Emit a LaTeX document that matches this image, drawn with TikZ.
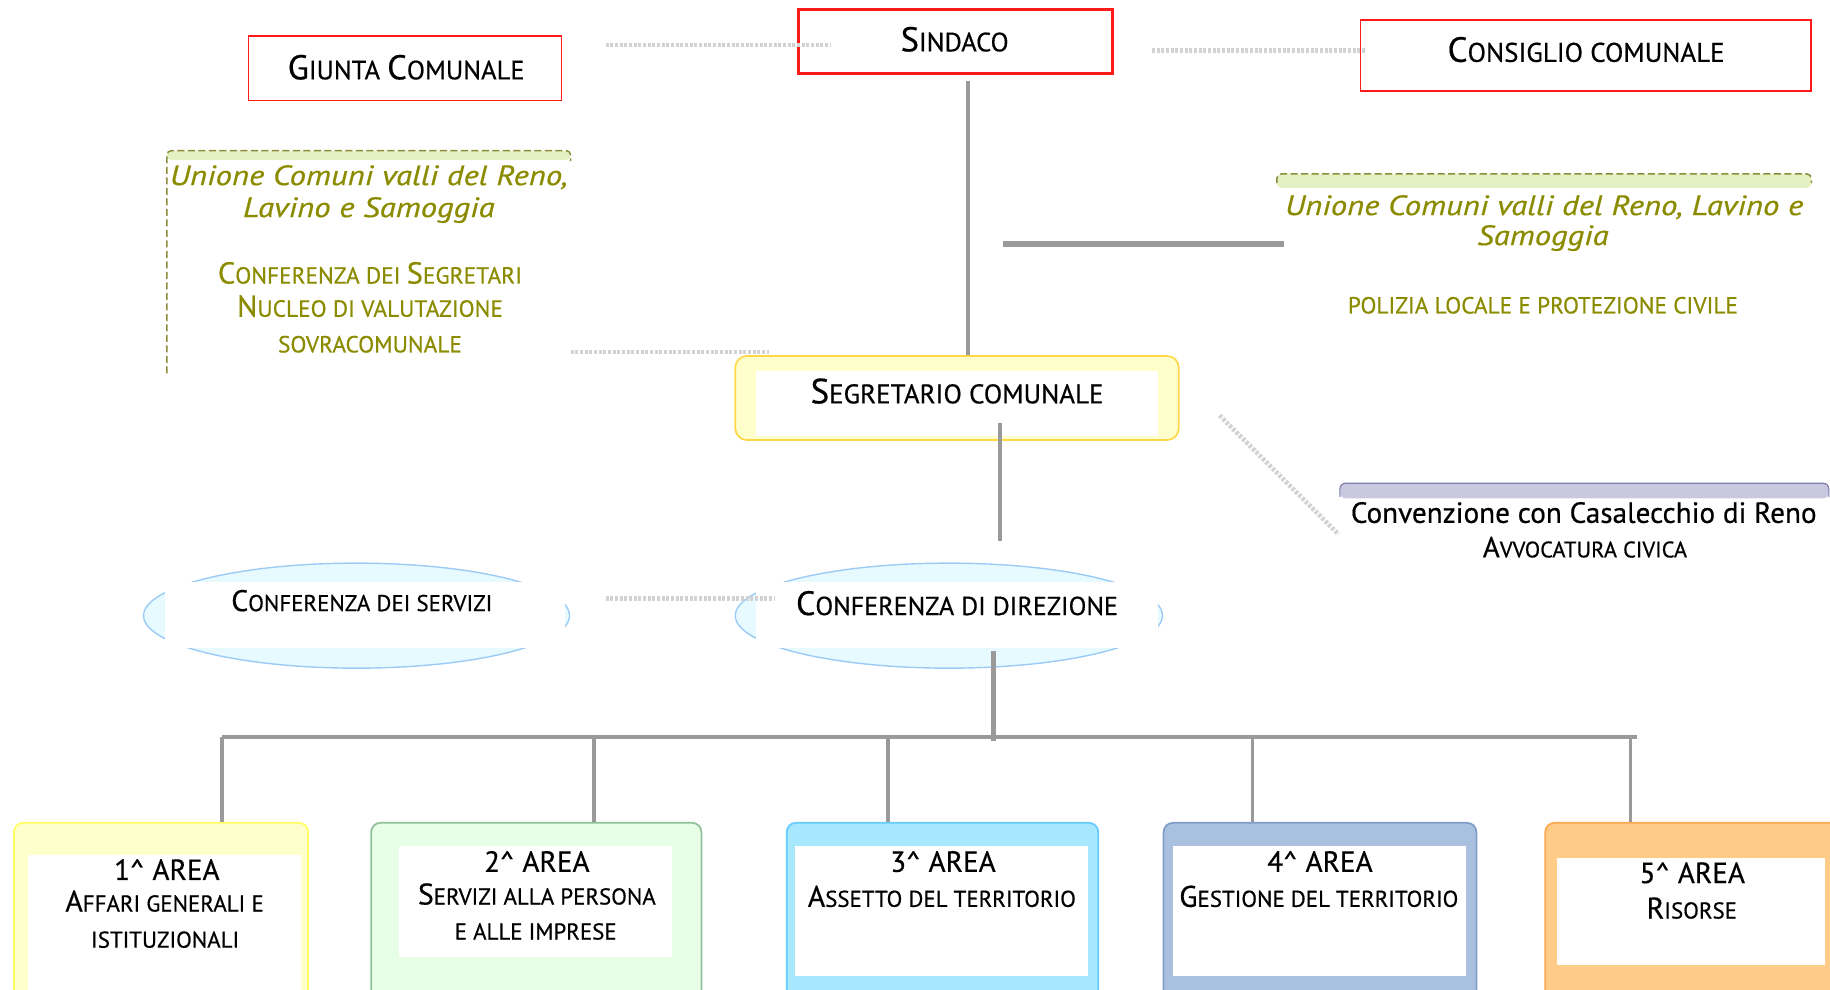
\documentclass[tikz,border=0pt]{standalone}
\usepackage{fontspec}
\setmainfont{PT Sans}[FakeBold=0.5]
\usetikzlibrary{calc,shapes.geometric}
\definecolor{boxred}{HTML}{FF1A1A}
\definecolor{linegray}{HTML}{9A9A9A}
\definecolor{dotgray}{HTML}{D2D2D2}
\definecolor{olivetxt}{HTML}{8B8B00}
\definecolor{olivedash}{HTML}{8C8C3A}
\definecolor{stripgreen}{HTML}{E3F0C2}
\definecolor{segborder}{HTML}{FFD84A}
\definecolor{segfill}{HTML}{FFFFCC}
\definecolor{ellborder}{HTML}{9CCBF5}
\definecolor{ellfill}{HTML}{E6FAFF}
\definecolor{lavfill}{HTML}{C8C8E0}
\definecolor{lavborder}{HTML}{8080A8}
\definecolor{aoneb}{HTML}{FFFF60}
\definecolor{aonef}{HTML}{FFFFCC}
\definecolor{atwob}{HTML}{8FC09A}
\definecolor{atwof}{HTML}{E6FFE6}
\definecolor{athreeb}{HTML}{66CCFF}
\definecolor{athreef}{HTML}{A8E8FF}
\definecolor{afourb}{HTML}{7F9DC8}
\definecolor{afourf}{HTML}{A9C1DE}
\definecolor{afiveb}{HTML}{FFA850}
\definecolor{afivef}{HTML}{FFCC88}
\newcommand\sk[1]{\scalebox{0.77}{#1}}
\newcommand\fs[1]{\fontsize{#1}{#1}\selectfont}
\newcommand\car{\textasciicircum}
\newcommand\wide[1]{\scalebox{1.17}[1]{#1}}
\tikzset{
  conn/.style={draw=linegray, line width=3pt},
  dotl/.style={draw=dotgray, line width=4pt, dash pattern=on 2.5pt off 1.5pt},
  thinred/.style={draw=boxred, line width=1.3pt, inner sep=0pt},
  txt/.style={anchor=base, inner sep=0pt, font=\fs{#1}},
  otxt/.style={anchor=base, inner sep=0pt, text=olivetxt, font=\fs{#1}},
  itxt/.style={anchor=base, inner sep=0pt, text=olivetxt, font=\fs{#1}\itshape},
  areabox/.style n args={2}{draw=#1, fill=#2, line width=1.5pt, rounded corners=8pt, inner sep=0pt},
}
\begin{document}
\begin{tikzpicture}[x=1pt,y=-1pt]
\useasboundingbox (0,0) rectangle (1568,848);
\clip (0,0) rectangle (1568,848);

% ---- top boxes
\node[draw=boxred, line width=3pt, inner sep=0pt, minimum width=269pt, minimum height=55pt] (sindaco) at (818.5,35.5) {};
\node[thinred, minimum width=268pt, minimum height=55pt] (giunta) at (347,58.5) {};
\node[thinred, minimum width=386pt, minimum height=61pt] (consiglio) at (1358.5,47.5) {};
\node[txt=29.5] (sindacoT) at (818,44) {S\sk{INDACO}};
\node[txt=29.5] (giuntaT) at (348,68) {G\sk{IUNTA }C\sk{OMUNALE}};
\node[txt=30] (consT) at (1359,53) {C\sk{ONSIGLIO COMUNALE}};

% dotted links top
\coordinate (dg1) at (519,38.6);
\coordinate (dg2) at (712,38.6);
\draw[dotl] (dg1) -- (dg2);
\coordinate (dc1) at (987,43);
\coordinate (dc2) at (1171,43);
\draw[dotl] (dc1) -- (dc2);

% ---- left Unione frame
\fill[stripgreen, rounded corners=4pt] (143,137) -- (143,129) -- (489,129) -- (489,137) -- cycle;
\draw[olivedash, line width=1.3pt, dash pattern=on 6pt off 3pt, rounded corners=4pt] (143,320) -- (143,129) -- (489,129) -- (489,138);
\node[itxt=24] (ul1) at (316,158.6) {\wide{Unione Comuni valli del Reno,}};
\node[itxt=24] (ul2) at (316,186) {\wide{Lavino e Samoggia}};
\node[otxt=26] (ul3) at (317,243) {C\sk{ONFERENZA DEI }S\sk{EGRETARI}};
\node[otxt=26] (ul4) at (317,271.4) {N\sk{UCLEO DI VALUTAZIONE}};
\node[otxt=26] (ul5) at (317,302) {\sk{SOVRACOMUNALE}};

% ---- right Unione
\fill[stripgreen, rounded corners=4pt] (1094,161) -- (1094,149) -- (1552,149) -- (1552,161) -- cycle;
\draw[olivedash, line width=1.3pt, dash pattern=on 6pt off 3pt, rounded corners=4pt] (1094,157) -- (1094,149) -- (1552,149) -- (1552,157);
\node[itxt=24] (ur1) at (1323,184.3) {\wide{Unione Comuni valli del Reno, Lavino e}};
\node[itxt=24] (ur2) at (1322,210) {\wide{Samoggia}};
\node[otxt=20] (ur3) at (1322,268.6) {POLIZIA LOCALE E PROTEZIONE CIVILE};

% ---- Segretario
\node[draw=segborder, fill=segfill, line width=1.5pt, rounded corners=10pt, minimum width=380pt, minimum height=72pt, inner sep=0pt] (segr) at (820,341) {};
\fill[white] (648,318) rectangle (992,374);
\node[txt=30] (segrT) at (820,345.6) {S\sk{EGRETARIO COMUNALE}};

\draw[conn] ($(sindaco.south)+(11,5)$) -- ($(segr.north)+(9.5,0)$);
\coordinate (hl1) at (859,209);
\coordinate (hl2) at (1100,209);
\draw[draw=linegray, line width=5.5pt] (hl1) -- (hl2);

\coordinate (du1) at (489,301.5);
\coordinate (du2) at (659,301.5);
\draw[dotl] (du1) -- (du2);

% ---- Convenzione
\fill[lavfill, rounded corners=5pt] (1148,427) -- (1148,414) -- (1567,414) -- (1567,427) -- cycle;
\draw[lavborder, line width=1pt, rounded corners=5pt] (1148,426) -- (1148,414) -- (1567,414) -- (1567,426);
\node[txt=25] (conv1) at (1357,448) {Convenzione con Casalecchio di Reno};
\node[txt=25] (conv2) at (1358,477.6) {A\sk{VVOCATURA CIVICA}};
\coordinate (dd1) at (1045,356);
\coordinate (dd2) at (1147,458);
\draw[dotl] (dd1) -- (dd2);

% ---- ellipses
\node[ellipse, draw=ellborder, fill=ellfill, line width=1.2pt, minimum width=365pt, minimum height=90pt, inner sep=0pt] (servizi) at (305.5,527.5) {};
\fill[white] (141,498.5) rectangle (484,555);
\node[txt=25.5] (servT) at (310,523.6) {C\sk{ONFERENZA DEI SERVIZI}};

\node[ellipse, draw=ellborder, fill=ellfill, line width=1.2pt, minimum width=366pt, minimum height=90pt, inner sep=0pt] (direzione) at (813,527.5) {};
\fill[white] (648,498.5) rectangle (992,555);
\node[txt=29] (dirT) at (820,527) {C\sk{ONFERENZA DI DIREZIONE}};

\coordinate (ds1) at (519,513);
\coordinate (ds2) at (664,513);
\draw[dotl] (ds1) -- (ds2);

\draw[conn] ($(segr.south)+(37,-15)$) -- ($(direzione.north)+(44,-18)$);

% ---- bus
\coordinate (bus0) at (851,635);
\coordinate (busL) at (190,631.5);
\coordinate (busR) at (1403,631.5);
\draw[conn, line width=4pt] ($(direzione.south)+(38,-15)$) -- (bus0);
\draw[conn, line width=4pt] (busL) -- (busR);

% ---- areas
\node[areabox={aoneb}{aonef}, minimum width=252pt, minimum height=180pt] (area1) at (138,795) {};
\fill[white] (24,733) rectangle (258,870);
\node[areabox={atwob}{atwof}, minimum width=283pt, minimum height=180pt] (area2) at (459.5,795) {};
\fill[white] (342,725) rectangle (576,820);
\node[areabox={athreeb}{athreef}, minimum width=267pt, minimum height=180pt] (area3) at (807.5,795) {};
\fill[white] (681,725) rectangle (932,836);
\node[areabox={afourb}{afourf}, minimum width=268pt, minimum height=180pt] (area4) at (1131,795) {};
\fill[white] (1005,725) rectangle (1256,836);
\node[areabox={afiveb}{afivef}, minimum width=260pt, minimum height=180pt] (area5) at (1454,795) {};
\fill[white] (1334,735) rectangle (1564,827);

\coordinate (b1) at (190,631.5);
\coordinate (b2) at (509,631.5);
\coordinate (b3) at (761,631.5);
\coordinate (b4) at (1073,631.5);
\coordinate (b5) at (1397,631.5);
\draw[conn] (b1) -- (b1 |- area1.north);
\draw[conn] (b2) -- (b2 |- area2.north);
\draw[conn] (b3) -- (b3 |- area3.north);
\draw[conn] (b4) -- (b4 |- area4.north);
\draw[conn] (b5) -- (b5 |- area5.north);

\node[txt=25] (a1t) at (143,754) {1\car\ AREA};
\node[txt=25.5] (a1s1) at (141,781) {A\sk{FFARI GENERALI E}};
\node[txt=25.5] (a1s2) at (141.5,812) {\sk{ISTITUZIONALI}};
\node[txt=25] (a2t) at (460,747) {2\car\ AREA};
\node[txt=25.5] (a2s1) at (460,775) {S\sk{ERVIZI ALLA PERSONA}};
\node[txt=25.5] (a2s2) at (459,805) {\sk{E ALLE IMPRESE}};
\node[txt=25] (a3t) at (808,747) {3\car\ AREA};
\node[txt=25.5] (a3s) at (807,777) {A\sk{SSETTO DEL TERRITORIO}};
\node[txt=25] (a4t) at (1131,747) {4\car\ AREA};
\node[txt=25.5] (a4s) at (1130,777) {G\sk{ESTIONE DEL TERRITORIO}};
\node[txt=25] (a5t) at (1450,756.6) {5\car\ AREA};
\node[txt=25.5] (a5s) at (1449.6,787) {R\sk{ISORSE}};
\end{tikzpicture}
\end{document}
